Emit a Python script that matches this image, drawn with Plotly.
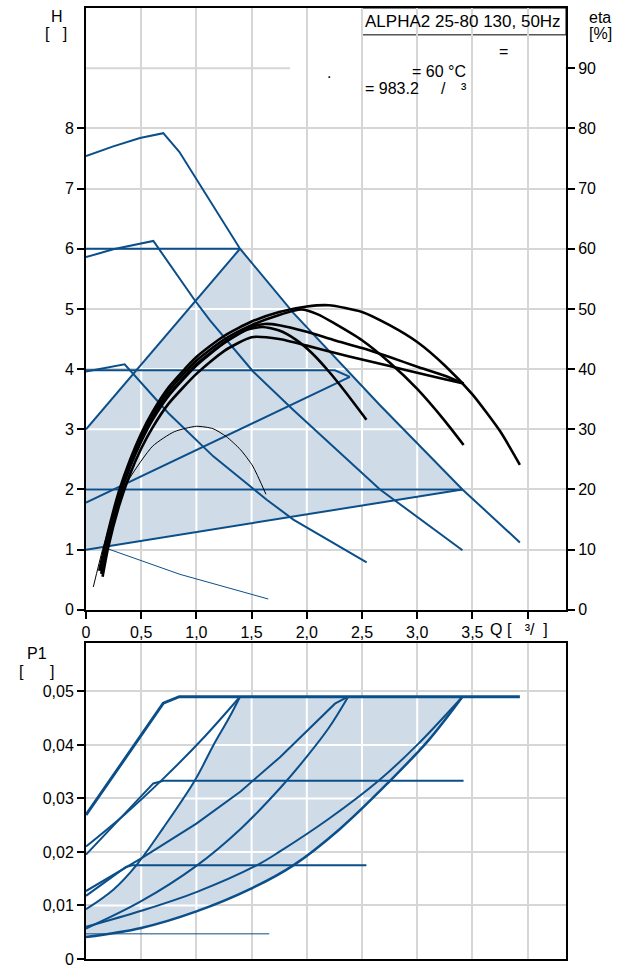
import plotly.graph_objects as go

# ---------------- figure geometry (pixels) ----------------
W, HP = 621, 974
ML, MR, MT, MB = 86, 55, 6, 12

# ---------------- top chart: head curves, Q [m3/h] / H [m] ----------------
max_q = [0, 0.247, 0.489, 0.70, 0.845, 1.003, 1.214, 1.395, 1.88, 2.663, 3.41, 3.93]
max_h = [7.54, 7.70, 7.84, 7.92, 7.61, 7.15, 6.53, 6.00, 4.93, 3.40, 2.00, 1.12]
mid_q = [0, 0.247, 0.61, 0.987, 1.123, 1.513, 1.878, 2.663, 3.41]
mid_h = [5.86, 5.99, 6.13, 5.14, 4.81, 3.96, 3.32, 2.00, 0.99]
low_q = [0, 0.35, 0.745, 1.153, 1.637, 1.878, 2.542]
low_h = [3.96, 4.08, 3.27, 2.55, 1.83, 1.50, 0.79]
cp6_q = [0, 1.395]
cp6_h = [6.0, 6.0]
cp4_q = [0, 2.255, 2.39]
cp4_h = [3.98, 3.98, 3.87]
pphi_q = [0, 2.39]
pphi_h = [1.78, 3.87]
cp2_q = [0, 3.41]
cp2_h = [2.0, 2.0]
pplo_q = [0, 3.41]
pplo_h = [1.0, 2.0]
tri_q = [0, 1.395]
tri_h = [3.0, 6.0]
min_q = [0.157, 0.851, 1.651]
min_h = [1.04, 0.59, 0.18]

# ---------------- efficiency curves, eta [%] ----------------
e1_q = [0.12, 0.2, 0.3, 0.4, 0.5, 0.6, 0.75, 1.0, 1.25, 1.5, 1.75, 2.0, 2.2, 2.5, 2.75, 3.0, 3.25, 3.5, 3.75, 3.93]
e1_v = [6.5, 13.0, 19.8, 25.0, 29.3, 32.8, 37.0, 42.0, 45.5, 47.9, 49.5, 50.4, 50.6, 49.5, 47.3, 44.5, 40.6, 35.8, 29.7, 24.1]
e2_q = [0.13, 0.2, 0.3, 0.4, 0.5, 0.6, 0.75, 1.0, 1.25, 1.5, 1.75, 1.95, 2.1, 2.25, 2.5, 2.75, 3.0, 3.25, 3.42]
e2_v = [6.5, 12.3, 19.2, 24.4, 28.7, 32.2, 36.4, 41.4, 44.9, 47.3, 49.0, 49.9, 49.1, 47.6, 44.8, 41.1, 36.7, 31.4, 27.4]
e3_q = [0.14, 0.2, 0.3, 0.4, 0.5, 0.6, 0.75, 1.0, 1.25, 1.5, 1.62, 1.75, 2.0, 2.25, 2.5, 2.75, 3.0, 3.25, 3.42]
e3_v = [6.0, 11.5, 18.5, 23.8, 28.0, 31.5, 35.6, 40.6, 44.3, 47.0, 47.5, 47.3, 46.2, 44.8, 43.5, 42.0, 40.4, 38.9, 37.6]
e4_q = [0.15, 0.2, 0.3, 0.4, 0.5, 0.6, 0.75, 1.0, 1.25, 1.5, 1.75, 2.0, 2.25, 2.5, 2.75, 3.0, 3.25, 3.42]
e4_v = [5.5, 10.3, 17.3, 22.6, 26.8, 30.2, 34.3, 39.2, 43.0, 45.3, 45.0, 43.9, 42.7, 41.6, 40.5, 39.4, 38.3, 37.6]
e5_q = [0.14, 0.2, 0.3, 0.4, 0.5, 0.6, 0.75, 1.0, 1.25, 1.45, 1.6, 1.75, 1.9, 2.05, 2.2, 2.35, 2.54]
e5_v = [6.0, 11.8, 18.8, 24.0, 28.2, 31.8, 35.8, 40.8, 44.4, 46.5, 47.0, 46.4, 44.9, 42.6, 39.6, 36.2, 31.6]
et_q = [0.066, 0.15, 0.25, 0.39, 0.604, 0.8, 1.0, 1.15, 1.27, 1.4, 1.51, 1.63]
et_v = [3.8, 10.0, 16.0, 21.7, 27.2, 29.6, 30.5, 30.1, 28.8, 26.6, 23.9, 19.2]

# ---------------- bottom chart: power P1 [kW] ----------------
pmax_q = [0, 0.70, 0.845, 3.93]
pmax_p = [0.0269, 0.0478, 0.0490, 0.0490]
pmid_q = [0, 0.30, 0.61, 0.70, 3.42]
pmid_p = [0.0195, 0.0261, 0.0328, 0.0333, 0.0333]
plow_q = [0, 0.362, 0.42, 2.54]
plow_p = [0.0118, 0.0172, 0.0175, 0.0175]
pcp6_q = [0, 0.35, 0.70, 1.05, 1.395]
pcp6_p = [0.0210, 0.0270, 0.0337, 0.0410, 0.0490]
pcp4_q = [0, 0.5, 1.0, 1.4, 1.757, 2.0, 2.255, 2.375]
pcp4_p = [0.0127, 0.0188, 0.0253, 0.0313, 0.0377, 0.0425, 0.0477, 0.0490]
ppphi_q = [0, 0.5, 1.0, 1.4, 1.757, 2.0, 2.2, 2.375]
ppphi_p = [0.0057, 0.0108, 0.0174, 0.0243, 0.0319, 0.0378, 0.0432, 0.0490]
pcp2_q = [0, 0.5, 1.0, 1.546, 1.757, 2.2, 2.65, 3.0, 3.41]
pcp2_p = [0.0060, 0.0090, 0.0125, 0.0175, 0.0201, 0.0262, 0.0333, 0.0400, 0.0490]
ppplo_q = [0, 0.5, 1.0, 1.5, 1.878, 2.3, 2.74, 3.1, 3.41]
ppplo_p = [0.0041, 0.0058, 0.0089, 0.0132, 0.0175, 0.0243, 0.0330, 0.0408, 0.0490]
ptri_q = [0, 0.25, 0.459, 0.7, 0.987, 1.153, 1.3, 1.395]
ptri_p = [0.0093, 0.0130, 0.0176, 0.0245, 0.0334, 0.0399, 0.0452, 0.0490]
pmin_q = [0, 1.66]
pmin_p = [0.0047, 0.0047]

# ---------------- ticks ----------------
q_ticks = [0, 0.5, 1.0, 1.5, 2.0, 2.5, 3.0, 3.5, 4.0]
q_labels = ["0", "0,5", "1,0", "1,5", "2,0", "2,5", "3,0", "3,5", ""]
h_ticks = [0, 1, 2, 3, 4, 5, 6, 7, 8]
eta_ticks = [0, 10, 20, 30, 40, 50, 60, 70, 80, 90]
p_ticks = [0, 0.01, 0.02, 0.03, 0.04, 0.05]
p_labels = ["0", "0,01", "0,02", "0,03", "0,04", "0,05"]
P_TOP = 0.0591

BLUE = "#0b4f8a"
FILL = "#cfdbe7"
GRID = "#d6d6d6"
FONT = "Liberation Sans, Arial, sans-serif"
Q_MAX = (W - ML - MR) / 110.4


def px2x(px):
    return (px - ML) / (W - ML - MR)


def py2y(py):
    return (HP - MB - py) / (HP - MT - MB)


def inside_segments(poly_x, poly_y, values, vertical):
    xs, ys = [], []
    n = len(poly_x)
    for c in values:
        cuts = []
        for i in range(n):
            x1, y1 = poly_x[i], poly_y[i]
            x2, y2 = poly_x[(i + 1) % n], poly_y[(i + 1) % n]
            a1, b1, a2, b2 = (x1, y1, x2, y2) if vertical else (y1, x1, y2, x2)
            if (a1 <= c < a2) or (a2 <= c < a1):
                t = (c - a1) / (a2 - a1)
                cuts.append(b1 + t * (b2 - b1))
        cuts.sort()
        for k in range(0, len(cuts) - 1, 2):
            if vertical:
                xs += [c, c, None]
                ys += [cuts[k], cuts[k + 1], None]
            else:
                xs += [cuts[k], cuts[k + 1], None]
                ys += [c, c, None]
    return xs, ys


fig = go.Figure()

# ---- top shaded area ----
apex = tri_q[-1]
top_fx = tri_q + [q for q in max_q if apex < q <= pplo_q[-1]] + [pplo_q[0]]
top_fy = tri_h + [h for q, h in zip(max_q, max_h) if apex < q <= pplo_q[-1]] + [pplo_h[0]]
fig.add_trace(go.Scatter(x=top_fx, y=top_fy, fill="toself", fillcolor=FILL, mode="lines",
                         line=dict(width=0), xaxis="x", yaxis="y", hoverinfo="skip"))
gx1, gy1 = inside_segments(top_fx, top_fy, [1, 2, 3, 4, 5, 6, 7, 8, 9], False)
gx2, gy2 = inside_segments(top_fx, top_fy, q_ticks[1:], True)
fig.add_trace(go.Scatter(x=gx1 + gx2, y=gy1 + gy2, mode="lines", line=dict(color="white", width=2),
                         xaxis="x", yaxis="y", hoverinfo="skip"))

# ---- bottom shaded area ----
bot_fx = ppplo_q + ptri_q[::-1]
bot_fy = ppplo_p + ptri_p[::-1]
fig.add_trace(go.Scatter(x=bot_fx, y=bot_fy, fill="toself", fillcolor=FILL, mode="lines",
                         line=dict(width=0), xaxis="x2", yaxis="y3", hoverinfo="skip"))
hx1, hy1 = inside_segments(bot_fx, bot_fy, p_ticks[1:], False)
hx2, hy2 = inside_segments(bot_fx, bot_fy, q_ticks[1:], True)
fig.add_trace(go.Scatter(x=hx1 + hx2, y=hy1 + hy2, mode="lines", line=dict(color="white", width=2),
                         xaxis="x2", yaxis="y3", hoverinfo="skip"))

# ---- top blue curves ----
for qq, hh, w in [(max_q, max_h, 2), (mid_q, mid_h, 2), (low_q, low_h, 2), (cp6_q, cp6_h, 2),
                  (cp4_q, cp4_h, 2), (pphi_q, pphi_h, 2), (cp2_q, cp2_h, 2), (pplo_q, pplo_h, 2),
                  (tri_q, tri_h, 2), (min_q, min_h, 1)]:
    fig.add_trace(go.Scatter(x=qq, y=hh, mode="lines", line=dict(color=BLUE, width=w),
                             xaxis="x", yaxis="y"))

# ---- efficiency curves ----
for qq, vv, w in [(e1_q, e1_v, 2.6), (e2_q, e2_v, 2.6), (e3_q, e3_v, 2.6), (e4_q, e4_v, 2.6),
                  (e5_q, e5_v, 2.6), (et_q, et_v, 1)]:
    fig.add_trace(go.Scatter(x=qq, y=vv, mode="lines",
                             line=dict(color="black", width=w, shape="spline", smoothing=0.6),
                             xaxis="x", yaxis="y2"))

# ---- bottom blue curves ----
for qq, pp, w, sh in [(pmid_q, pmid_p, 2, "linear"), (plow_q, plow_p, 2, "linear"),
                      (pcp6_q, pcp6_p, 2, "spline"), (pcp4_q, pcp4_p, 2, "linear"),
                      (ppphi_q, ppphi_p, 2, "spline"), (pcp2_q, pcp2_p, 2, "spline"),
                      (ppplo_q, ppplo_p, 2.5, "spline"), (ptri_q, ptri_p, 2, "spline"),
                      (pmin_q, pmin_p, 1, "linear"), (pmax_q, pmax_p, 3, "linear")]:
    fig.add_trace(go.Scatter(x=qq, y=pp, mode="lines", line=dict(color=BLUE, width=w, shape=sh),
                             xaxis="x2", yaxis="y3"))

axis_common = dict(showline=True, linecolor="black", linewidth=2, zeroline=False,
                   gridcolor=GRID, gridwidth=2, tickcolor="black", tickwidth=1.5,
                   tickfont=dict(family=FONT, size=16, color="black"))

top_dom = [py2y(611), 1.0]
bot_dom = [0.0, py2y(644)]

fig.update_layout(
    width=W, height=HP, margin=dict(l=ML, r=MR, t=MT, b=MB),
    paper_bgcolor="white", plot_bgcolor="rgba(0,0,0,0)", showlegend=False,
    font=dict(family=FONT, size=16, color="black"),
    xaxis=dict(domain=[0, 1], range=[0, Q_MAX], anchor="y", tickmode="array", tickvals=q_ticks,
               ticktext=q_labels, ticks="outside", ticklen=7, mirror=True, showgrid=True, **axis_common),
    yaxis=dict(domain=top_dom, range=[0, 10], anchor="x", tickmode="array", tickvals=h_ticks,
               ticks="outside", ticklen=7, mirror=True, showgrid=True, **axis_common),
    yaxis2=dict(range=[0, 100], overlaying="y", side="right", anchor="x", tickmode="array",
                tickvals=eta_ticks, ticks="outside", ticklen=7, showgrid=False, **axis_common),
    xaxis2=dict(domain=[0, 1], range=[0, Q_MAX], anchor="y3", tickmode="array", tickvals=q_ticks,
                showticklabels=False, ticks="", mirror=True, showgrid=True, **axis_common),
    yaxis3=dict(domain=bot_dom, range=[0, P_TOP], anchor="x2", tickmode="array", tickvals=p_ticks,
                ticktext=p_labels, ticks="outside", ticklen=7, mirror=True, showgrid=True, **axis_common),
)

fig.add_shape(type="line", xref="paper", yref="y", x0=0, x1=1, y0=9, y1=9,
              line=dict(color=GRID, width=2), layer="below")
fig.add_shape(type="rect", xref="paper", yref="paper", x0=px2x(290), x1=px2x(565),
              y0=py2y(97), y1=py2y(33), fillcolor="white", line=dict(width=0), layer="between")
fig.add_shape(type="rect", xref="paper", yref="paper", x0=px2x(362), x1=px2x(566),
              y0=py2y(33), y1=py2y(6), fillcolor="white", line=dict(color="black", width=1),
              layer="between")

NB = "\u00a0"
texts = [
    ("H", 57, 15, "center", 16),
    ("[" + NB * 3 + "]", 56, 32, "center", 16),
    ("eta", 600, 16, "center", 16),
    ("[%]", 600, 32, "center", 16),
    ("P1", 37, 655, "center", 16),
    ("[" + NB * 6 + "]", 37, 673, "center", 16),
    ("Q [" + NB * 3 + "³/" + NB * 2 + "]", 519, 631, "center", 16),
    ("ALPHA2 25-80 130, 50Hz", 463, 19.5, "center", 17),
    ("=", 503, 50, "center", 16),
    (".", 329, 71, "center", 16),
    ("= 60 °C", 468, 70, "right", 16),
    ("= 983.2", 363, 87, "left", 16),
    ("/", 443, 87, "center", 16),
    ("³", 464, 87, "center", 16),
]
for t, px, py, anc, fs in texts:
    fig.add_annotation(text=t, xref="paper", yref="paper", x=px2x(px), y=py2y(py),
                       xanchor=anc, yanchor="middle", showarrow=False,
                       font=dict(family=FONT, size=fs, color="black"))

fig.write_html("out.html", config={"displayModeBar": False},
               post_script="document.body.style.margin='0';document.body.style.overflow='hidden';")
